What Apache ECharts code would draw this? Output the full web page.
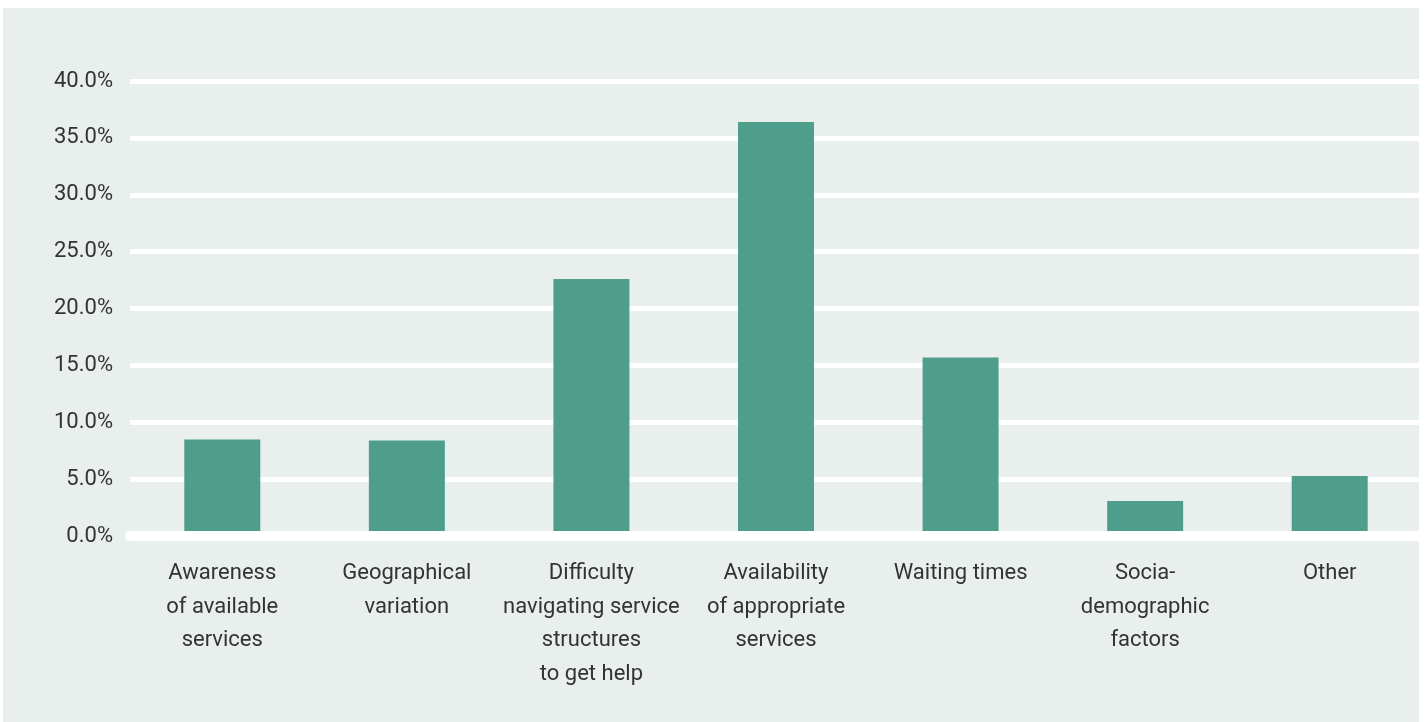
<!DOCTYPE html>
<html>
<head>
<meta charset="utf-8">
<script src="https://cdn.jsdelivr.net/npm/echarts@6/dist/echarts.min.js"></script>
<style>
  html, body { margin: 0; padding: 0; background: #ffffff; }
  #panel { position: absolute; left: 3px; top: 8px; width: 1416px; height: 714px; background: #e9efed; }
  #chart { position: absolute; left: 0; top: 0; width: 1427px; height: 722px; }
</style>
</head>
<body>
<div id="panel"></div>
<div id="chart"></div>
<script>
// Barriers to getting help: share of responses per category
const categories = [
  'Awareness\nof available\nservices',
  'Geographical\nvariation',
  'Difficulty\nnavigating service\nstructures\nto get help',
  'Availability\nof appropriate\nservices',
  'Waiting times',
  'Socia-\ndemographic\nfactors',
  'Other'
];
const shares = [8.5, 8.4, 22.6, 36.4, 15.7, 3.1, 5.3];

const yMin = 0;
const yMax = 40;
const yStep = 5;

const textColor = '#333333';
const fontFamily = 'Roboto, "Open Sans", sans-serif';

const chart = echarts.init(document.getElementById('chart'), null, { renderer: 'canvas' });

chart.setOption({
  backgroundColor: 'transparent',
  animation: false,
  grid: { left: 130, top: 81, width: 1292, height: 455.2, containLabel: false },
  xAxis: {
    type: 'category',
    data: categories,
    z: 3,
    offset: 2,
    axisLine: { show: true, lineStyle: { color: '#ffffff', width: 10 } },
    axisTick: { show: false },
    axisLabel: {
      interval: 0,
      margin: 19,
      color: textColor,
      fontFamily: fontFamily,
      fontSize: 22,
      lineHeight: 33.5,
      align: 'center'
    },
    splitLine: { show: false }
  },
  yAxis: {
    type: 'value',
    min: yMin,
    max: yMax,
    interval: yStep,
    axisLine: { show: false },
    axisTick: { show: false },
    axisLabel: {
      margin: 17,
      color: textColor,
      fontFamily: fontFamily,
      fontSize: 22,
      formatter: v => v.toFixed(1) + '%'
    },
    splitLine: { show: true, lineStyle: { color: '#ffffff', width: 5 } }
  },
  series: [{
    type: 'bar',
    data: shares,
    barWidth: 76,
    itemStyle: { color: '#4f9e8c' }
  }]
});
</script>
</body>
</html>
